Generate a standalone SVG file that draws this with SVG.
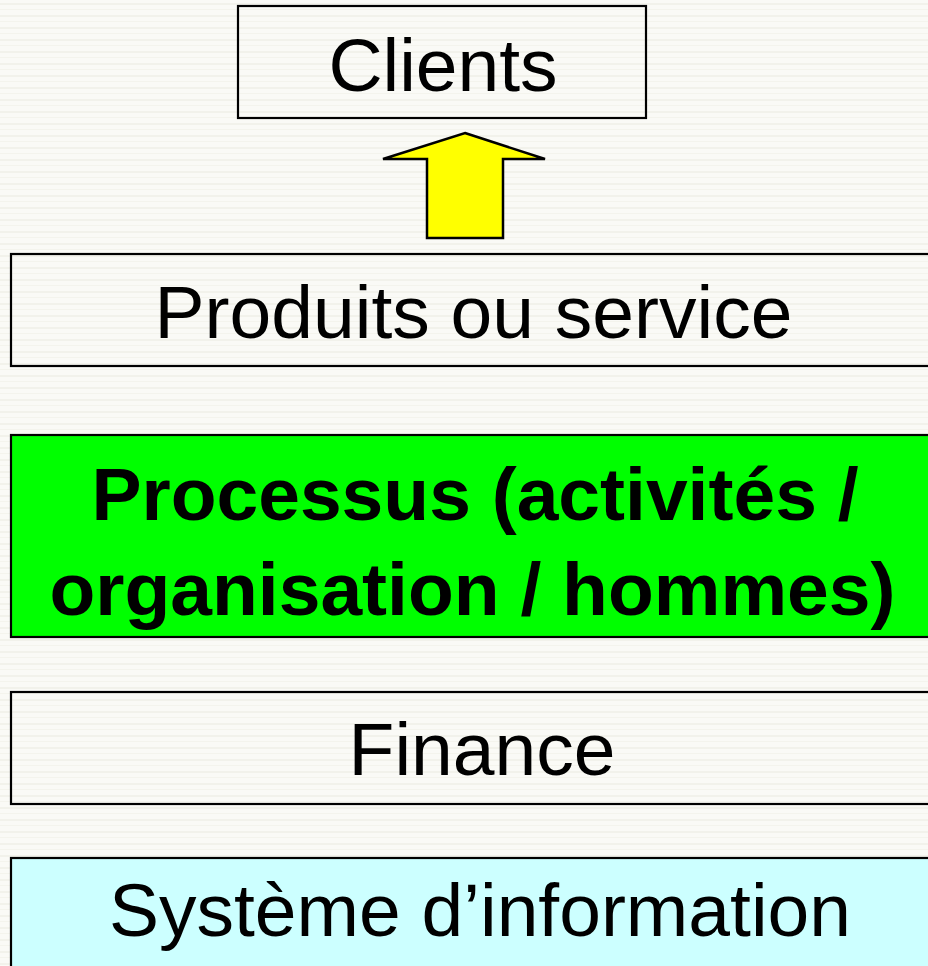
<svg xmlns="http://www.w3.org/2000/svg" width="928" height="966" viewBox="0 0 928 966">
  <defs>
    <pattern id="bg" width="8" height="12" patternUnits="userSpaceOnUse">
      <rect width="8" height="12" fill="#fafaf6"/>
      <rect y="3" width="8" height="2" fill="#f2f2eb"/>
      <rect y="9" width="8" height="1" fill="#f4f4ed"/>
    </pattern>
  </defs>
  <style>
    .box { stroke: #000; stroke-width: 2.2; }
    .t { font-family: "Liberation Sans", Arial, sans-serif; font-size: 75px; fill: #000; text-anchor: middle; }
    .b { font-weight: bold; }
  </style>
  <rect width="928" height="966" fill="url(#bg)"/>
  <g id="clients">
    <rect class="box" x="238" y="6" width="408" height="112" fill="url(#bg)"/>
    <text class="t" x="443" y="91">Clients</text>
  </g>
  <g id="produits">
    <rect class="box" x="11" y="254" width="930" height="112" fill="url(#bg)"/>
    <text class="t" x="473.5" y="338">Produits ou service</text>
  </g>
  <g id="processus">
    <rect class="box" x="11" y="435" width="930" height="202" fill="#00ff00"/>
    <text class="t b" x="475" y="520">Processus (activités /</text>
    <text class="t b" x="472.5" y="615">organisation / hommes)</text>
  </g>
  <g id="finance">
    <rect class="box" x="11" y="692" width="930" height="112" fill="url(#bg)"/>
    <text class="t" x="482" y="775">Finance</text>
  </g>
  <g id="systeme">
    <rect class="box" x="11" y="858" width="930" height="120" fill="#ccffff"/>
    <text class="t" x="480" y="936">Système d’information</text>
  </g>
  <g id="connectors">
    <polygon points="465,133 545,159 503,159 503,238 427,238 427,159 383,159" fill="#ffff00" stroke="#000" stroke-width="2.5" stroke-linejoin="miter"/>
  </g>
</svg>
